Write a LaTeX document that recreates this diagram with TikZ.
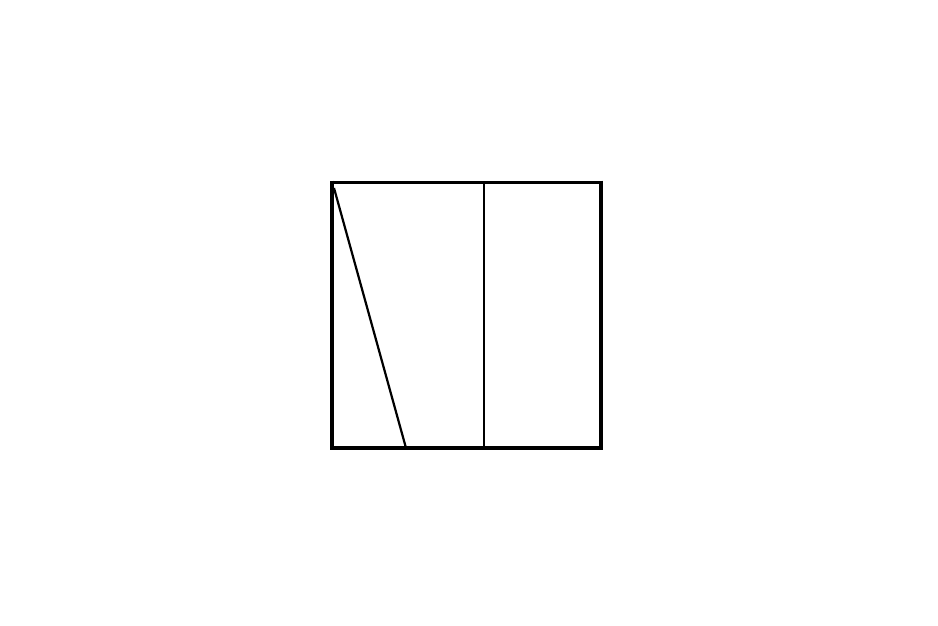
\documentclass[tikz,border=0pt]{standalone}
\begin{document}
\begin{tikzpicture}[x=1pt,y=-1pt,
  frame/.style={line width=3pt,line join=miter},
  side/.style={line width=4.5pt},
  inner/.style={line width=2.2pt}]
\useasboundingbox (0,0) rectangle (938,625);
\fill[white] (0,0) rectangle (938,625);
% outer square
\draw[frame] (332,182) rectangle (601,448);
\draw[side] (332,180.5) -- (332,450);
\draw[side] (601,180.5) -- (601,450);
\draw[line width=4pt] (330,448) -- (603,448);
% vertical divider
\draw[inner] (484,182) -- (484,448);
% diagonal
\draw[inner] (334,188) -- (406,448);
\end{tikzpicture}
\end{document}
